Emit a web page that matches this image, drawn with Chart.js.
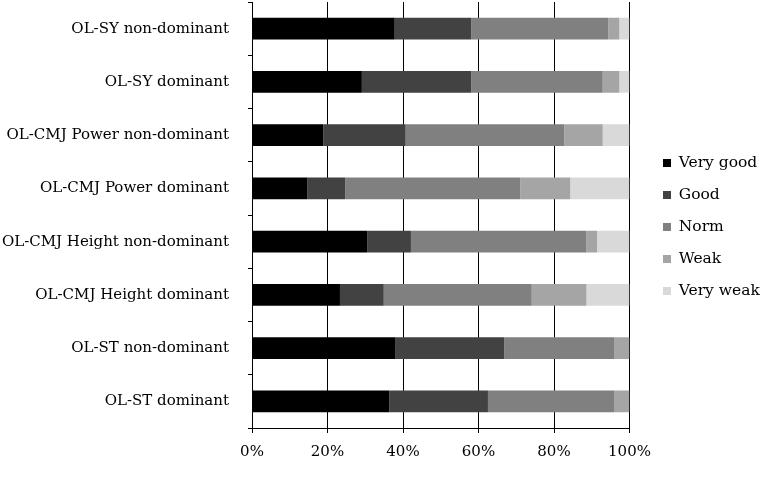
<!DOCTYPE html>
<html>
<head>
<meta charset="utf-8">
<script src="https://cdn.jsdelivr.net/npm/chart.js@4/dist/chart.umd.min.js"></script>
<style>
	html, body { margin: 0; padding: 0; background: #fff; }
	#wrap { width: 767px; height: 501px; position: relative; }
</style>
</head>
<body>
<div id="wrap"><canvas id="chart"></canvas></div>
<script>
// ----- ----- -----
// data
// ----- ----- -----

const categories = [
	'OL-SY non-dominant',
	'OL-SY dominant',
	'OL-CMJ Power non-dominant',
	'OL-CMJ Power dominant',
	'OL-CMJ Height non-dominant',
	'OL-CMJ Height dominant',
	'OL-ST non-dominant',
	'OL-ST dominant'
];

const veryGood = [37.8, 29.1, 18.9, 14.7, 30.5, 23.3, 37.9, 36.4];
const good     = [20.3, 29.0, 21.8, 10.0, 11.6, 11.6, 28.9, 26.1];
const norm     = [36.3, 34.8, 42.0, 46.4, 46.4, 39.2, 29.1, 33.4];
const weak     = [2.9, 4.4, 10.2, 13.2, 2.9, 14.5, 4.1, 4.1];
const veryWeak = [2.7, 2.7, 7.1, 15.7, 8.6, 11.4, 0, 0];

const xTicks = [0, 20, 40, 60, 80, 100];

// ----- ----- -----
// chart js
// ----- ----- -----

const fontFamily = '"DejaVu Serif", serif';

function series(label, data, color) {
	return {
		label: label,
		data: data,
		backgroundColor: color,
		borderWidth: 0,
		barPercentage: 0.41,
		categoryPercentage: 1
	};
}

const chartData = {
	labels: categories,
	datasets: [
		series('Very good', veryGood, '#000000'),
		series('Good', good, '#424242'),
		series('Norm', norm, '#808080'),
		series('Weak', weak, '#a5a5a5'),
		series('Very weak', veryWeak, '#d9d9d9')
	]
};

// legend is wider and sits further right / higher than chart.js puts it
const legendPlace = {
	id: 'legendPlace',
	beforeLayout(chart) {
		const legend = chart.legend;
		if (!legend._wideFit) {
			const fit = legend.fit;
			legend.fit = function () {
				fit.call(this);
				this.width = 137.5;
			};
			legend._wideFit = true;
		}
	},
	afterLayout(chart) {
		const legend = chart.legend;
		legend.left += 17;
		legend.top -= 6;
		legend.bottom -= 6;
	}
};

const chart = new Chart('chart', {
	type: 'bar',
	data: chartData,
	plugins: [legendPlace],
	options: {
		indexAxis: 'y',
		responsive: true,
		maintainAspectRatio: false,
		animation: false,
		layout: {
			padding: { top: 2, right: 0, bottom: 37, left: 0 }
		},
		plugins: {
			tooltip: { enabled: false },
			legend: {
				position: 'right',
				labels: {
					boxWidth: 8,
					boxHeight: 8,
					padding: 16.5,
					color: '#000',
					font: { family: fontFamily, size: 15.5 }
				}
			}
		},
		scales: {
			x: {
				stacked: true,
				min: 0,
				max: 100,
				afterBuildTicks: (axis) => {
					axis.ticks = xTicks.map(v => ({ value: v }));
				},
				afterFit: (axis) => { axis.height = 36; },
				ticks: {
					color: '#000',
					font: { family: fontFamily, size: 15 },
					padding: 10,
					maxRotation: 0,
					callback: (v) => v + '%'
				},
				grid: {
					color: '#000',
					lineWidth: 1,
					tickLength: 5
				},
				border: { color: '#000', width: 1 }
			},
			y: {
				stacked: true,
				afterFit: (axis) => {
					axis.width = 252;
					axis.paddingTop = 0;
					axis.paddingBottom = 0;
				},
				ticks: {
					color: '#000',
					font: { family: fontFamily, size: 15 },
					padding: 19
				},
				grid: {
					drawOnChartArea: false,
					color: '#000',
					tickLength: 4
				},
				border: { color: '#000', width: 1 }
			}
		}
	}
});
</script>
</body>
</html>
